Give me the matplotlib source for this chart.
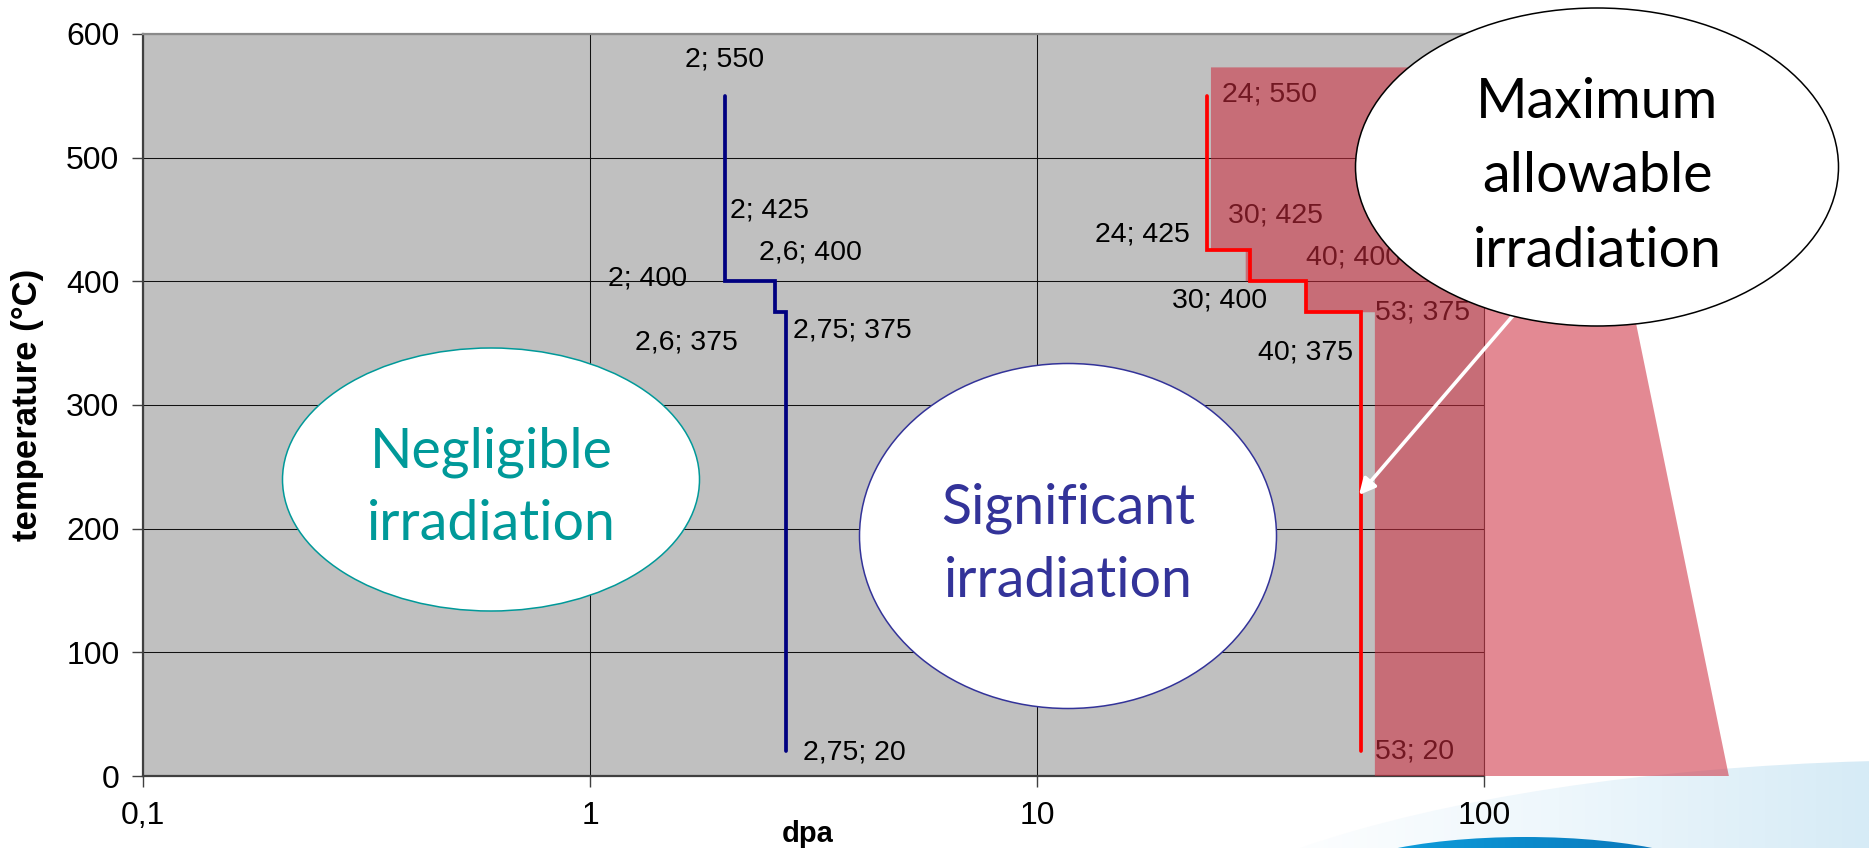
import numpy as np
import matplotlib
matplotlib.use("Agg")
import matplotlib.pyplot as plt
from matplotlib.patches import Ellipse, Polygon
from matplotlib.ticker import FixedLocator, FixedFormatter, NullLocator
from matplotlib.colors import LinearSegmentedColormap

# ---------------- data ----------------
# reference limit curve (dpa; temperature °C)
ref_dpa = [2, 2, 2, 2.6, 2.6, 2.75, 2.75]
ref_temp = [550, 425, 400, 400, 375, 375, 20]
ref_labels = ["2; 550", "2; 425", "2; 400", "2,6; 400", "2,6; 375", "2,75; 375", "2,75; 20"]

# maximum allowable curve
max_dpa = [24, 24, 30, 30, 40, 40, 53, 53]
max_temp = [550, 425, 425, 400, 400, 375, 375, 20]
max_labels = ["24; 550", "24; 425", "30; 425", "30; 400", "40; 400", "40; 375", "53; 375", "53; 20"]

# shaded zone beyond the maximum allowable curve
zone_dpa = [24.5, 24.5, 29.3, 29.3, 40, 40, 57, 57, 353, 167]
zone_temp = [573, 425, 425, 400, 400, 375, 375, 0, 0, 573]

x_ticks = [0.1, 1, 10, 100]
x_tick_labels = ["0,1", "1", "10", "100"]
y_ticks = [0, 100, 200, 300, 400, 500, 600]

# label offsets from their points, in pixels
ref_offsets = [(0, 36), (45, 40), (-77, 3), (35, 29), (-89, -30), (66, -18), (68, -1)]
max_offsets = [(63, 1), (-65, 16), (25, 35), (-31, -19), (47, 24), (-1, -40), (62, 0), (54, 0)]

plt.rcParams["font.family"] = ["Liberation Sans", "DejaVu Sans"]

W, H = 1869, 848
fig = plt.figure(figsize=(W / 100, H / 100), dpi=100)
fig.patch.set_facecolor("white")

# ---------- decorative background swoosh ----------
bg = fig.add_axes([0, 0, 1, 1], zorder=-5)
bg.axis("off")
sw = Ellipse((1950, 1000), 1680, 480, fc="none", ec="none")
bg.add_patch(sw)
grad = np.linspace(0, 1, 256)[None, :]
cmap_sw = LinearSegmentedColormap.from_list("sw", ["#FFFFFF", "#EEF7FC", "#D6EBF6"])
im = bg.imshow(grad, extent=(1250, 1869, 848, 740), cmap=cmap_sw, aspect="auto",
               interpolation="bilinear")
im.set_clip_path(sw)
arc = Ellipse((1525, 885), 400, 96, fc="none", ec="none")
bg.add_patch(arc)
cmap_arc = LinearSegmentedColormap.from_list("arc", ["#14A8E4", "#0A8ACB", "#0B6FB3"])
im2 = bg.imshow(grad, extent=(1320, 1730, 848, 830), cmap=cmap_arc, aspect="auto",
                interpolation="bilinear")
im2.set_clip_path(arc)
bg.set_xlim(0, W)
bg.set_ylim(H, 0)

# ---------------- main chart ----------------
L, R, T, B = 143, 1484, 34, 776
ax = fig.add_axes([L / W, 1 - B / H, (R - L) / W, (B - T) / H], zorder=0)
ax.set_facecolor("#C0C0C0")
ax.set_xscale("log")
ax.set_xlim(0.1, 100)
ax.set_ylim(0, 600)
ax.xaxis.set_major_locator(FixedLocator(x_ticks))
ax.xaxis.set_major_formatter(FixedFormatter(x_tick_labels))
ax.xaxis.set_minor_locator(NullLocator())
ax.yaxis.set_major_locator(FixedLocator(y_ticks))
ax.grid(True, which="major", color="#111111", lw=0.75, zorder=0.5)
ax.set_axisbelow(True)
for side in ("left", "bottom"):
    ax.spines[side].set_color("#404040")
    ax.spines[side].set_linewidth(1.6)
ax.spines["top"].set_color("#8a8a8a")
ax.spines["top"].set_linewidth(1.6)
ax.spines["right"].set_color("#333333")
ax.spines["right"].set_linewidth(0.8)
ax.tick_params(axis="both", which="major", direction="out", length=8, width=1,
               color="#404040", labelsize=23)
ax.tick_params(axis="y", pad=9)
ax.tick_params(axis="x", pad=10)

ax.plot(ref_dpa, ref_temp, color="#000080", lw=2.7, solid_capstyle="round",
        solid_joinstyle="miter", zorder=4)
for x, y, s, off in zip(ref_dpa, ref_temp, ref_labels, ref_offsets):
    ax.annotate(s, (x, y), xytext=off, textcoords="offset pixels", ha="center",
                va="center", fontsize=20.5, color="black", zorder=3)
for x, y, s, off in zip(max_dpa, max_temp, max_labels, max_offsets):
    ax.annotate(s, (x, y), xytext=off, textcoords="offset pixels", ha="center",
                va="center", fontsize=20.5, color="black", zorder=3)

zone = Polygon(np.column_stack([zone_dpa, zone_temp]), closed=True,
               facecolor=(206 / 255, 44 / 255, 62 / 255), alpha=0.556,
               edgecolor="none", clip_on=False, zorder=5)
ax.add_patch(zone)

ax.plot(max_dpa, max_temp, color="#FF0000", lw=2.7, solid_capstyle="round",
        solid_joinstyle="miter", zorder=6)

fig.text(808 / W, 1 - 834 / H, "dpa", ha="center", va="center",
         fontsize=21, fontweight="bold")
fig.text(28 / W, 1 - 405 / H, "temperature (°C)", ha="center", va="center",
         rotation=90, fontsize=25, fontweight="bold")

# ---------------- callout bubbles ----------------
ov = fig.add_axes([0, 0, 1, 1], zorder=10)
ov.set_xlim(0, W)
ov.set_ylim(H, 0)
ov.axis("off")
ov.patch.set_alpha(0)

ov.annotate("", xy=(1359, 495), xytext=(1535, 290),
            arrowprops=dict(arrowstyle="-|>", color="white", lw=2.6,
                            mutation_scale=24, shrinkA=0, shrinkB=0), zorder=1)

bubbles = [
    ((491, 479.5), 417, 263, "#009999", ["Negligible", "irradiation"], [467, 540]),
    ((1068, 536), 417, 345, "#333399", ["Significant", "irradiation"], [523, 597]),
    ((1597, 167), 483, 318, "black", ["Maximum", "allowable", "irradiation"], [118, 192, 267]),
]
for (cx, cy), w, h, col, lines, baselines in bubbles:
    ov.add_patch(Ellipse((cx, cy), w, h, fc="white", ec=col, lw=1.1, zorder=2))
    for line, by in zip(lines, baselines):
        ov.text(cx, by, line, ha="center", va="baseline", fontsize=40,
                family=["Lato", "DejaVu Sans"], color=col, zorder=3)

fig.savefig("out.png", dpi=100)
